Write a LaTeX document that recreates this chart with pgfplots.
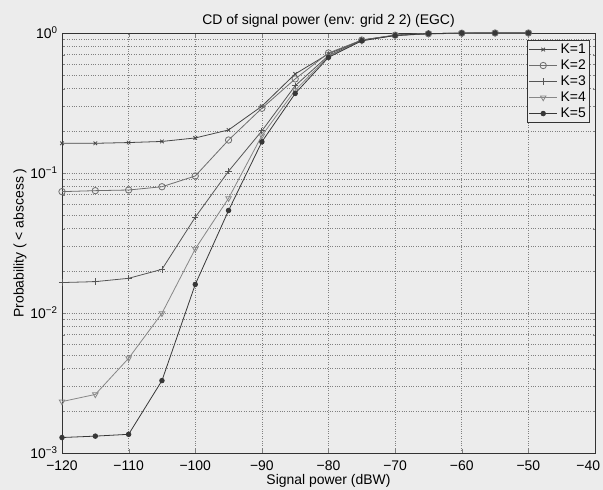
\documentclass[border=0pt]{standalone}
\usepackage{pgfplots}
\pgfplotsset{compat=1.18}
\usepackage{fontspec}
\setmainfont{Liberation Sans}
\definecolor{bg}{RGB}{236,236,236}
\definecolor{cA}{RGB}{70,70,70}
\definecolor{cB}{RGB}{110,110,110}
\definecolor{cC}{RGB}{85,85,85}
\definecolor{cD}{RGB}{135,135,135}
\definecolor{cE}{RGB}{55,55,55}
\begin{document}
\begin{tikzpicture}[x=1bp,y=1bp]
\fill[bg] (0,0) rectangle (603,490);
\useasboundingbox (0,0) rectangle (603,490);
\begin{axis}[
  at={(62bp,37bp)}, anchor=south west,
  scale only axis, width=533bp, height=420bp,
  ymode=log, xmin=-120, xmax=-40, ymin=0.001, ymax=1,
  xtick={-120,-110,...,-40},
  xticklabels={−120,−110,−100,−90,−80,−70,−60,−50,\makebox[0pt][r]{−40\kern-5bp}},
  ytick={0.001,0.01,0.1,1},
  yticklabels={10\textsuperscript{−3},10\textsuperscript{−2},10\textsuperscript{−1},10\textsuperscript{0}},
  font=\fontsize{14}{16}\selectfont,
  tick label style={font=\fontsize{14}{16}\selectfont},
  xticklabel style={yshift=-4bp},
  yticklabel style={xshift=-1bp},
  tick align=inside, axis background/.style={fill=bg},
  xmajorgrids, ymajorgrids, yminorgrids,
  major grid style={dotted, black!50, line width=0.7pt},
  minor grid style={dotted, black!50, line width=0.7pt},
  major tick length=4bp, minor tick length=2.5bp,
  axis line style={black!80, line width=0.8pt},
  clip mode=individual,
  title={CD of signal power (env: grid 2 2) (EGC)},
  title style={yshift=-4bp},
  xlabel={Signal power (dBW)},
  xlabel style={yshift=2.5bp},
  ylabel={Probability ( < abscess )},
  ylabel style={yshift=-3bp},
  legend style={at={(rel axis cs:0.991,0.983)}, anchor=north east, draw=black!80, fill=bg,
    font=\fontsize{14}{16}\selectfont, inner sep=1bp, line width=0.8pt,
    nodes={text height=10bp, text depth=2bp, inner ysep=2bp, inner xsep=3bp},
    /tikz/every even column/.append style={column sep=3bp}},
  legend cell align=left,
  legend image code/.code={\draw[#1] (0bp,0bp) -- (28bp,0bp); \draw[#1, mark repeat=2, mark phase=2] plot coordinates {(0bp,0bp) (14bp,0bp) (28bp,0bp)};},
  every axis plot/.append style={line width=0.8pt},
]
\addplot[cA, mark=x, mark size=2.5bp] coordinates {
(-120,0.163) (-115,0.163) (-110,0.165) (-105,0.168) (-100,0.178) (-95,0.203) (-90,0.30) (-85,0.51) (-80,0.71) (-75,0.89) (-70,0.96) (-65,0.985) (-60,0.996) (-55,1.0) (-50,1.0)};
\addlegendentry{K=1}
\addplot[cB, mark=o, mark size=3.2bp] coordinates {
(-120,0.0736) (-115,0.0748) (-110,0.0756) (-105,0.0798) (-100,0.0952) (-95,0.172) (-90,0.29) (-85,0.47) (-80,0.72) (-75,0.89) (-70,0.965) (-65,0.988) (-60,0.997) (-55,1.0) (-50,1.0)};
\addlegendentry{K=2}
\addplot[cC, mark=+, mark size=3.2bp] coordinates {
(-120,0.0165) (-115,0.01675) (-110,0.0177) (-105,0.0205) (-100,0.0483) (-95,0.103) (-90,0.20) (-85,0.42) (-80,0.69) (-75,0.89) (-70,0.965) (-65,0.99) (-60,0.998) (-55,1.0) (-50,1.0)};
\addlegendentry{K=3}
\addplot[cD, mark=triangle, mark options={rotate=180}, mark size=3.2bp] coordinates {
(-120,0.00233) (-115,0.00262) (-110,0.00475) (-105,0.00995) (-100,0.0287) (-95,0.066) (-90,0.185) (-85,0.39) (-80,0.68) (-75,0.88) (-70,0.965) (-65,0.99) (-60,0.998) (-55,1.0) (-50,1.0)};
\addlegendentry{K=4}
\addplot[cE, mark=*, mark size=2.3bp] coordinates {
(-120,0.00129) (-115,0.00132) (-110,0.00136) (-105,0.00329) (-100,0.016) (-95,0.054) (-90,0.167) (-85,0.37) (-80,0.67) (-75,0.88) (-70,0.96) (-65,0.99) (-60,0.998) (-55,1.0) (-50,1.0)};
\addlegendentry{K=5}
\end{axis}
\end{tikzpicture}
\end{document}
